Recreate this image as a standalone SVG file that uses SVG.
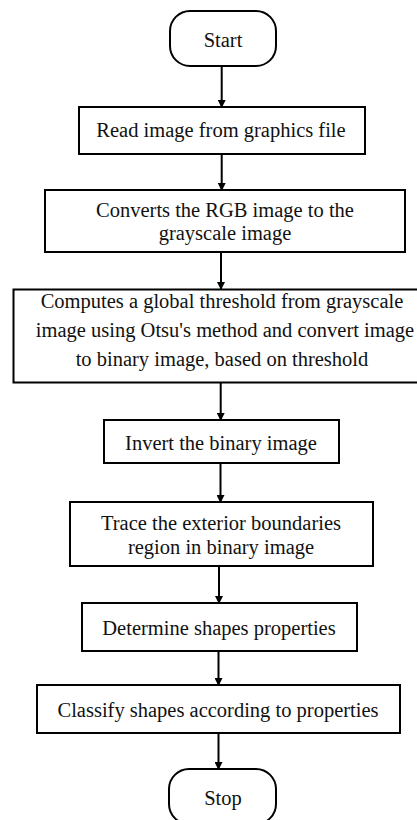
<svg xmlns="http://www.w3.org/2000/svg" width="417" height="820" viewBox="0 0 417 820">
<defs>
<marker id="ah" markerWidth="8" markerHeight="8" refX="7" refY="4" orient="auto" markerUnits="userSpaceOnUse">
<path d="M0,0 L8,4 L0,8 Z" fill="#000"/>
</marker>
<style>
.b{fill:#fff;stroke:#000;stroke-width:2}
text{font-family:'Liberation Serif','Times New Roman',serif;font-size:20.5px;fill:#111;text-anchor:middle}
.c{stroke:#000;stroke-width:2;fill:none;marker-end:url(#ah)}
</style>
</defs>
<rect width="417" height="820" fill="#fff"/>
<g id="connectors">
<line class="c" x1="221.7" y1="66" x2="221.7" y2="107"/>
<line class="c" x1="221.7" y1="154" x2="221.7" y2="190"/>
<line class="c" x1="221" y1="252" x2="221" y2="289"/>
<line class="c" x1="220.7" y1="383" x2="220.7" y2="420"/>
<line class="c" x1="220.5" y1="463" x2="220.5" y2="502"/>
<line class="c" x1="219" y1="566" x2="219" y2="603"/>
<line class="c" x1="218.5" y1="651" x2="218.5" y2="685"/>
<line class="c" x1="218.5" y1="733" x2="218.5" y2="769"/>
</g>
<g id="start">
<rect class="b" x="170" y="11" width="106" height="55" rx="20" ry="20"/>
<text x="223" y="47">Start</text>
</g>
<g id="read">
<rect class="b" x="79" y="107" width="286" height="47"/>
<text x="221" y="137">Read image from graphics file</text>
</g>
<g id="convert">
<rect class="b" x="45" y="190" width="360" height="62"/>
<text x="225" y="217">Converts the RGB image to the</text>
<text x="225" y="240">grayscale image</text>
</g>
<g id="threshold">
<rect class="b" x="13.5" y="289.5" width="410" height="93"/>
<text x="222" y="308">Computes a global threshold from grayscale</text>
<text x="225" y="337">image using Otsu's method and convert image</text>
<text x="222" y="366">to binary image, based on threshold</text>
</g>
<g id="invert">
<rect class="b" x="104" y="420" width="235" height="43"/>
<text x="221" y="450">Invert the binary image</text>
</g>
<g id="trace">
<rect class="b" x="70" y="502" width="303" height="64"/>
<text x="221" y="530">Trace the exterior boundaries</text>
<text x="221" y="554">region in binary image</text>
</g>
<g id="determine">
<rect class="b" x="82" y="603" width="275" height="48"/>
<text x="219" y="635">Determine shapes properties</text>
</g>
<g id="classify">
<rect class="b" x="37" y="685" width="363" height="48"/>
<text x="218" y="717">Classify shapes according to properties</text>
</g>
<g id="stop">
<rect class="b" x="169" y="769" width="107" height="55" rx="20" ry="20"/>
<text x="223" y="805">Stop</text>
</g>
</svg>
